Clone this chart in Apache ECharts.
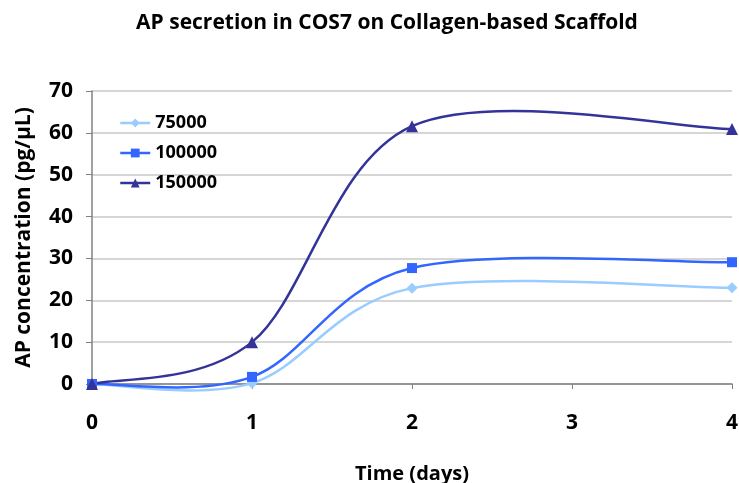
<!DOCTYPE html>
<html><head><meta charset="utf-8">
<script src="https://cdn.jsdelivr.net/npm/echarts@6/dist/echarts.min.js"></script>
<style>html,body{margin:0;padding:0;background:#fff}#c{width:739px;height:483px}</style>
</head><body><div id="c"></div>
<script>
var days = [0, 1, 2, 4];
var s75000 = [0, 0.2, 22.9, 23.0];
var s100000 = [0, 1.7, 27.7, 29.1];
var s150000 = [0, 10.0, 61.6, 60.9];
var seriesNames = ['75000', '100000', '150000'];
var xTicks = [0, 1, 2, 3, 4];
var yTicks = [0, 10, 20, 30, 40, 50, 60, 70];

function pairs(v){ return days.map(function(d,i){ return [d, v[i]]; }); }
var font = '"Open Sans", "Noto Sans", sans-serif';
var chart = echarts.init(document.getElementById('c'));
var colors = ['#99CCFF', '#3366FF', '#333399'];
var symbols = ['diamond', 'rect', 'triangle'];
var sizes = [11, 10, 12];
var data = [s75000, s100000, s150000];

// Excel-style (Catmull-Rom) smoothed curve drawn through the data via the axes' scales
function curveRender(values, color){
  return function(params, api){
    var i = params.dataIndex;
    if (i === 0) return null;
    var n = values.length;
    function P(k){ k = Math.max(0, Math.min(n-1, k)); return api.coord([days[k], values[k]]); }
    var p0 = P(i-2), p1 = P(i-1), p2 = P(i), p3 = P(i+1);
    if (i - 1 === 0) p0 = p1;
    if (i === n - 1) p3 = p2;
    return {
      type: 'bezierCurve',
      shape: {
        x1: p1[0], y1: p1[1], x2: p2[0], y2: p2[1],
        cpx1: p1[0] + (p2[0]-p0[0])/6, cpy1: p1[1] + (p2[1]-p0[1])/6,
        cpx2: p2[0] - (p3[0]-p1[0])/6, cpy2: p2[1] - (p3[1]-p1[1])/6
      },
      style: { stroke: color, lineWidth: 2.5, fill: null }
    };
  };
}

var series = [];
seriesNames.forEach(function(n, i){
  series.push({
    name: n + ' curve', type: 'custom', coordinateSystem: 'cartesian2d',
    data: pairs(data[i]), encode: { x: 0, y: 1 },
    renderItem: curveRender(data[i], colors[i]), z: 2 + i, silent: true
  });
});
seriesNames.forEach(function(n, i){
  series.push({
    name: n, type: 'line', data: pairs(data[i]),
    symbol: symbols[i], symbolSize: sizes[i], showAllSymbol: true,
    itemStyle: { color: colors[i] },
    lineStyle: { color: colors[i], width: 0, opacity: 0 },
    z: 10 + i
  });
});

chart.setOption({
  animation: false,
  title: {
    text: 'AP secretion in COS7 on Collagen-based Scaffold',
    left: 382, top: 8, textAlign: 'center',
    textStyle: { fontFamily: font, fontWeight: 'bold', fontSize: 21, color: '#000' }
  },
  legend: {
    orient: 'vertical', left: 114, top: 109, itemGap: 12,
    itemWidth: 30, itemHeight: 11,
    textStyle: { fontFamily: font, fontWeight: 'bold', fontSize: 18, color: '#000' },
    data: seriesNames.map(function(n, i){
      return { name: n, lineStyle: { color: colors[i], width: 2.5, opacity: 1 } };
    })
  },
  grid: { left: 92, right: 7, top: 91, bottom: 99, containLabel: false, outerBoundsMode: 'none' },
  xAxis: {
    type: 'value', min: xTicks[0], max: xTicks[xTicks.length-1], interval: 1,
    name: 'Time (days)', nameLocation: 'middle', nameGap: 80,
    nameTextStyle: { fontFamily: font, fontWeight: 'bold', fontSize: 20, color: '#000' },
    axisLine: { onZero: false, lineStyle: { color: '#808080', width: 1.5 } },
    axisTick: { show: true, inside: false, length: 5, lineStyle: { color: '#808080' } },
    axisLabel: { fontFamily: font, fontWeight: 'bold', fontSize: 21, color: '#000', margin: 29 },
    splitLine: { show: false }
  },
  yAxis: {
    type: 'value', min: yTicks[0], max: yTicks[yTicks.length-1], interval: 10,
    name: 'AP concentration (pg/µL)', nameLocation: 'middle', nameGap: 57, nameRotate: 90,
    nameTextStyle: { fontFamily: font, fontWeight: 'bold', fontSize: 21, color: '#000' },
    axisLine: { show: true, lineStyle: { color: '#808080', width: 1.5 } },
    axisTick: { show: true, inside: false, length: 6, lineStyle: { color: '#808080' } },
    axisLabel: { fontFamily: font, fontWeight: 'bold', fontSize: 21, color: '#000', margin: 19 },
    splitLine: { show: true, lineStyle: { color: '#C8C8C8', width: 1.5 } }
  },
  series: series
});
</script></body></html>
